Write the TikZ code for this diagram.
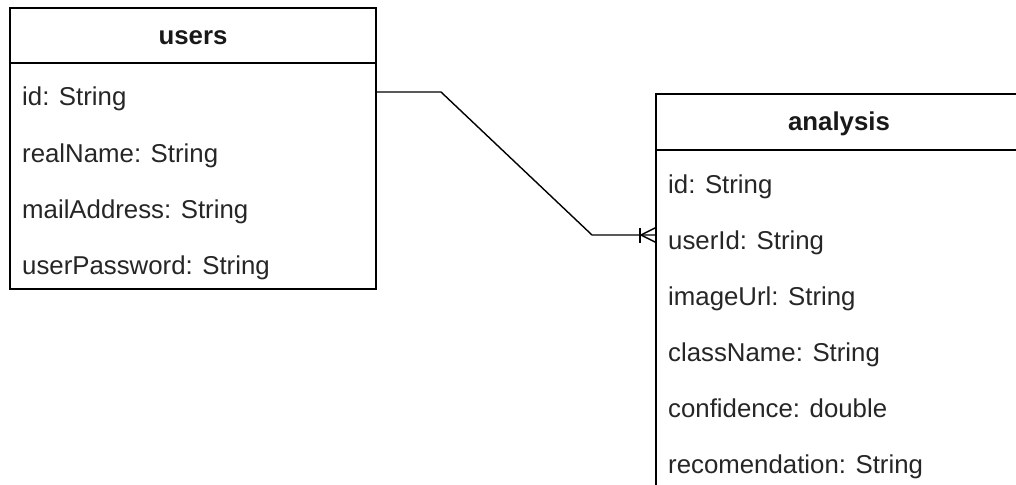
\documentclass[tikz,border=0pt]{standalone}
\usepackage{fontspec}
\setmainfont{Liberation Sans}
\usetikzlibrary{calc}
\begin{document}
\begin{tikzpicture}[x=1pt,y=-1pt,
  box/.style={draw=black, line width=1.6pt, minimum width=366pt, inner sep=0pt, outer sep=0pt, anchor=north west},
  title/.style={font=\fontsize{25.8}{30}\selectfont\bfseries, text=black!90, anchor=base, inner sep=0pt},
  field/.style={font=\fontsize{25.8}{30}\selectfont, text=black!85, anchor=base west, inner sep=0pt},
  conn/.style={draw=black, line width=1.4pt}]
\useasboundingbox (0,0) rectangle (1016,484);
\clip (0,0) rectangle (1016,484);
\fill[white] (0,0) rectangle (1016,484);
% users table
\node[box, minimum height=55pt] (uhead) at (10,8) {};
\node[box, minimum height=226pt] (ubody) at (10,63) {};
\node[title] (utitle) at (193,45) {users};
\node[field] (u1) at (22,106) {id: String};
\node[field] (u2) at (22,162) {realName: String};
\node[field] (u3) at (22,218) {mailAddress: String};
\node[field] (u4) at (22,274) {userPassword: String};
% analysis table
\node[box, minimum height=56pt] (ahead) at (656,94) {};
\node[box, minimum height=336pt] (abody) at (656,150) {};
\node[title] (atitle) at (839,131) {analysis};
\node[field] (a1) at (668,193) {id: String};
\node[field] (a2) at (668,249) {userId: String};
\node[field] (a3) at (668,305) {imageUrl: String};
\node[field] (a4) at (668,361) {className: String};
\node[field] (a5) at (668,417) {confidence: double};
\node[field] (a6) at (668,473) {recomendation: String};
% connector
\coordinate (S) at ($(ubody.north east)+(0,29)$);
\coordinate (E) at ($(abody.north west)+(0,85)$);
\draw[conn] (S) -- ++(65,0) -- ($(E)+(-64,0)$) -- (E);
\draw[conn] ($(E)+(-16,-7.5)$) -- ($(E)+(-16,7.5)$);
\draw[conn] ($(E)+(0,-7.5)$) -- ($(E)+(-15,0)$) -- ($(E)+(0,7.5)$);
\end{tikzpicture}
\end{document}
